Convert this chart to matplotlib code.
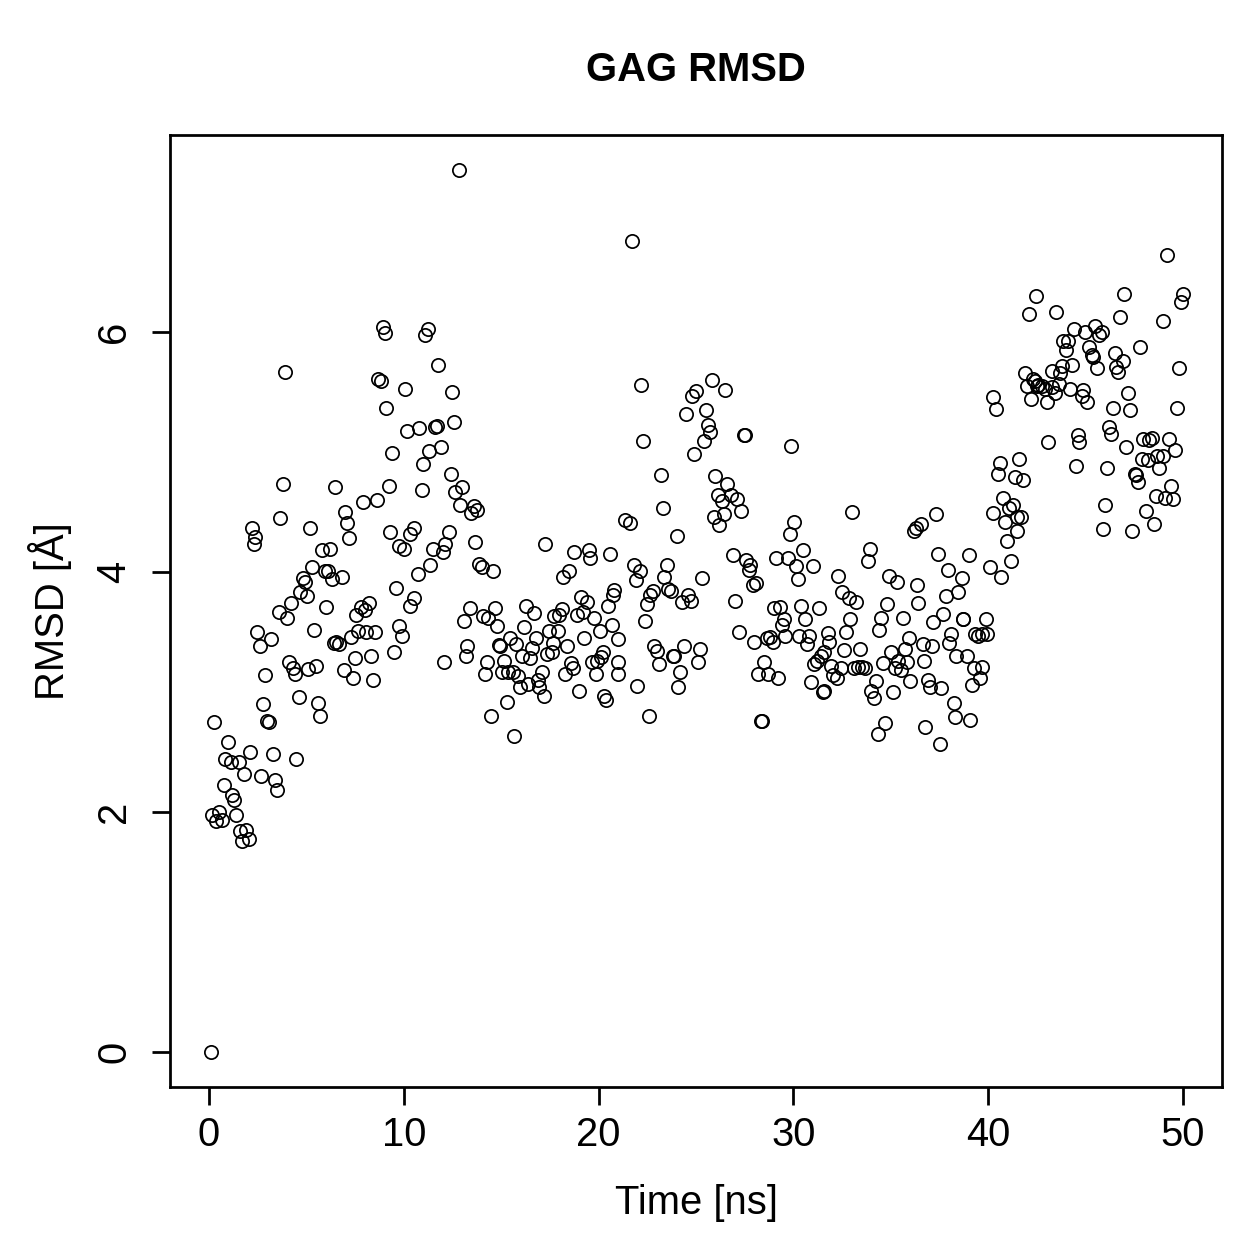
import matplotlib
matplotlib.use("Agg")
import matplotlib.pyplot as plt

plt.rcParams['font.family'] = ['Liberation Sans', 'DejaVu Sans']

# simulation time (ns) and RMSD (Angstrom)
time_ns = [
    0.10, 0.15, 0.26, 0.36, 0.51, 0.67, 0.77, 0.82, 0.97, 1.13, 1.18, 1.28, 1.38, 1.54, 1.59, 1.69,
    1.79, 1.90, 2.05, 2.10, 2.20, 2.31, 2.36, 2.46, 2.61, 2.66, 2.77, 2.87, 2.97, 3.07, 3.18, 3.28,
    3.38, 3.48, 3.59, 3.64, 3.79, 3.89, 4.00, 4.10, 4.20, 4.30, 4.41, 4.46, 4.61, 4.66, 4.82, 4.92,
    5.02, 5.07, 5.17, 5.28, 5.38, 5.48, 5.58, 5.69, 5.79, 5.94, 5.99, 6.10, 6.20, 6.30, 6.40, 6.45,
    6.51, 6.66, 6.81, 6.92, 6.97, 7.07, 7.17, 7.27, 7.38, 7.48, 7.53, 7.63, 7.79, 7.89, 7.99, 8.04,
    8.20, 8.30, 8.40, 8.50, 8.61, 8.66, 8.81, 8.91, 9.02, 9.07, 9.22, 9.27, 9.38, 9.48, 9.58, 9.73,
    9.78, 9.89, 9.99, 10.04, 10.14, 10.30, 10.30, 10.50, 10.50,
    10.71, 10.76, 10.91, 11.01, 11.07, 11.22, 11.27, 11.37, 11.48, 11.58, 11.68, 11.78, 11.89, 11.99,
    12.09, 12.14, 12.30, 12.40, 12.50, 12.60, 12.65, 12.81, 12.91, 13.01, 13.11, 13.17, 13.27, 13.42,
    13.47, 13.58, 13.68, 13.78, 13.88, 13.99, 14.09, 14.19, 14.29, 14.34, 14.50, 14.60, 14.70, 14.81,
    14.91, 14.96, 15.06, 15.16, 15.32, 15.37, 15.47, 15.63, 15.68, 15.78, 15.88, 15.98, 16.09, 16.19,
    16.29, 16.39, 16.50, 16.60, 16.70, 16.80, 16.91, 16.96, 17.11, 17.21, 17.26, 17.37, 17.47, 17.62,
    17.67, 17.73, 17.93, 17.98, 18.14, 18.19, 18.29, 18.39, 18.49, 18.60, 18.70, 18.75, 18.90, 19.01,
    19.11, 19.21, 19.26, 19.42, 19.52, 19.57, 19.67, 19.77, 19.88, 19.93, 20.08, 20.13, 20.24, 20.29,
    20.39, 20.49, 20.59, 20.70, 20.75, 20.80, 21.00, 21.00, 21.00, 21.36,
    21.62, 21.72, 21.82, 21.93, 21.98, 22.13, 22.18, 22.28, 22.39, 22.49, 22.59, 22.64, 22.80, 22.85,
    23.00, 23.10, 23.21, 23.31, 23.36, 23.51, 23.57, 23.72, 23.82, 23.87, 24.03, 24.08, 24.18, 24.28,
    24.39, 24.49, 24.59, 24.74, 24.80, 24.90, 25.00, 25.10, 25.20, 25.31, 25.41, 25.51, 25.61, 25.72,
    25.82, 25.92, 25.97, 26.13, 26.18, 26.33, 26.43, 26.49, 26.59, 26.79, 26.90, 27.00, 27.10, 27.20,
    27.31, 27.46, 27.51, 27.56, 27.72, 27.77, 27.92, 27.97, 28.07, 28.18, 28.33, 28.38, 28.48, 28.64,
    28.69, 28.79, 28.94, 28.99, 29.10, 29.20, 29.30, 29.41, 29.51, 29.56, 29.71, 29.82, 29.87, 30.02,
    30.12, 30.23, 30.28, 30.38, 30.48, 30.58, 30.69, 30.79, 30.89, 30.99, 31.05, 31.20, 31.30, 31.40,
    31.51, 31.56, 31.56, 31.76, 31.81, 31.92, 32.02,
    32.22, 32.27, 32.43, 32.48, 32.58, 32.68, 32.84, 32.89, 32.99, 33.09, 33.20, 33.30, 33.40, 33.50,
    33.66, 33.81, 33.91, 33.97, 34.12, 34.22, 34.32, 34.38, 34.48, 34.58, 34.68, 34.78, 34.89, 34.99,
    35.09, 35.19, 35.30, 35.35, 35.50, 35.60, 35.71, 35.81, 35.91, 35.96, 36.17, 36.27, 36.32, 36.37,
    36.53, 36.63, 36.68, 36.78, 36.89, 36.99, 37.09, 37.19, 37.30, 37.40, 37.50, 37.60, 37.70, 37.81,
    37.91, 38.01, 38.11, 38.22, 38.32, 38.37, 38.47, 38.63, 38.68, 38.73, 38.93, 38.99, 39.09, 39.19,
    39.29, 39.34, 39.50, 39.60, 39.70, 39.70, 39.91, 39.96, 40.11, 40.22, 40.27, 40.42, 40.52, 40.63,
    40.68, 40.78, 40.88, 40.98, 41.09, 41.19, 41.29, 41.39, 41.50, 41.50, 41.60, 41.70, 41.80, 41.91,
    42.01, 42.11, 42.21, 42.32, 42.42, 42.47, 42.52,
    42.57, 42.78, 42.93, 43.03, 43.08, 43.29, 43.29, 43.44, 43.49, 43.65, 43.70, 43.80, 43.85, 44.01,
    44.11, 44.21, 44.31, 44.42, 44.52, 44.62, 44.67, 44.83, 44.88, 44.98, 45.08, 45.18, 45.34, 45.39,
    45.49, 45.59, 45.70, 45.85, 45.90, 46.00, 46.11, 46.21, 46.31, 46.41, 46.52, 46.57, 46.67, 46.77,
    46.93, 46.98, 47.08, 47.18, 47.28, 47.39, 47.54, 47.59, 47.69, 47.80, 47.90, 47.95, 48.10, 48.21,
    48.26, 48.41, 48.51, 48.62, 48.67, 48.77, 48.98, 48.98, 49.08, 49.18, 49.28, 49.39, 49.49, 49.59,
    49.69, 49.80, 49.90, 50.00,
]

rmsd = [
    0.00, 1.97, 2.75, 1.92, 2.00, 1.93, 2.22, 2.44, 2.58, 2.42, 2.14, 2.10, 1.97, 2.42, 1.84, 1.76,
    2.32, 1.85, 1.77, 2.50, 4.37, 4.23, 4.29, 3.50, 3.38, 2.30, 2.90, 3.14, 2.76, 2.75, 3.44, 2.48,
    2.27, 2.18, 3.67, 4.45, 4.73, 5.67, 3.62, 3.25, 3.74, 3.20, 3.15, 2.44, 2.96, 3.83, 3.95, 3.92,
    3.80, 3.19, 4.37, 4.04, 3.52, 3.22, 2.91, 2.80, 4.18, 4.01, 3.71, 4.01, 4.19, 3.94, 3.41, 4.71,
    3.42, 3.40, 3.96, 3.18, 4.50, 4.41, 4.28, 3.46, 3.12, 3.28, 3.64, 3.51, 3.71, 4.58, 3.68, 3.50,
    3.74, 3.30, 3.10, 3.50, 4.60, 5.61, 5.59, 6.04, 5.99, 5.37, 4.72, 4.33, 4.99, 3.33, 3.87, 4.22,
    3.55, 3.47, 4.19, 5.53, 5.18, 3.72, 4.32, 4.37, 3.78,
    3.98, 5.20, 4.68, 4.90, 5.98, 6.03, 5.01, 4.06, 4.19, 5.21, 5.22, 5.73, 5.04, 4.17,
    3.25, 4.23, 4.33, 4.82, 5.50, 5.25, 4.67, 7.35, 4.56, 4.71, 3.59, 3.30, 3.38, 3.70,
    4.49, 4.55, 4.25, 4.52, 4.07, 4.04, 3.63, 3.15, 3.25, 3.62, 2.80, 4.01, 3.70, 3.55,
    3.39, 3.38, 3.17, 3.26, 2.92, 3.17, 3.45, 3.17, 2.63, 3.40, 3.13, 3.04, 3.30, 3.54,
    3.72, 3.07, 3.28, 3.37, 3.66, 3.45, 3.10, 3.04, 3.17, 2.97, 4.23, 3.32, 3.51, 3.33,
    3.41, 3.63, 3.51, 3.64, 3.69, 3.96, 3.15, 3.38, 4.01, 3.24, 3.20, 4.17, 3.64, 3.01,
    3.79, 3.67, 3.45, 3.75, 4.18, 4.12, 3.25, 3.62, 3.15, 3.26, 3.51, 3.29, 3.33, 2.97,
    2.93, 3.72, 4.15, 3.56, 3.81, 3.85, 3.44, 3.25, 3.15, 4.43,
    4.41, 6.76, 4.06, 3.93, 3.05, 4.01, 5.56, 5.09, 3.59, 3.73, 2.80, 3.81, 3.84, 3.38,
    3.34, 3.23, 4.81, 4.53, 3.96, 4.06, 3.86, 3.84, 3.30, 3.30, 4.30, 3.04, 3.17, 3.75,
    3.38, 5.32, 3.81, 3.76, 5.47, 4.98, 5.51, 3.25, 3.36, 3.95, 5.09, 5.35, 5.23, 5.17,
    5.60, 4.46, 4.80, 4.64, 4.39, 4.59, 4.48, 5.52, 4.73, 4.64, 4.14, 3.76, 4.61, 3.50,
    4.51, 5.14, 5.14, 4.10, 4.02, 4.06, 3.89, 3.42, 3.91, 3.15, 2.76, 2.76, 3.25, 3.45,
    3.15, 3.46, 3.42, 3.70, 4.12, 3.12, 3.71, 3.56, 3.61, 3.47, 4.12, 4.32, 5.05, 4.42,
    4.05, 3.94, 3.47, 3.72, 4.18, 3.61, 3.40, 3.47, 3.08, 4.05, 3.23, 3.26, 3.70, 3.30,
    3.00, 3.33, 3.01, 3.49, 3.42, 3.22, 3.14,
    3.12, 3.97, 3.20, 3.83, 3.35, 3.50, 3.78, 3.61, 4.50, 3.20, 3.75, 3.21, 3.36, 3.21,
    3.20, 4.09, 4.19, 3.01, 2.95, 3.09, 2.65, 3.52, 3.62, 3.24, 2.74, 3.73, 3.97, 3.33,
    3.00, 3.20, 3.92, 3.26, 3.18, 3.62, 3.36, 3.25, 3.45, 3.09, 4.34, 4.37, 3.89, 3.74,
    4.40, 3.40, 3.26, 2.71, 3.10, 3.04, 3.38, 3.58, 4.48, 4.15, 2.57, 3.03, 3.65, 3.80,
    4.02, 3.41, 3.48, 2.91, 2.79, 3.30, 3.83, 3.95, 3.61, 3.61, 3.30, 4.14, 2.77, 3.06,
    3.20, 3.48, 3.47, 3.12, 3.48, 3.21, 3.61, 3.48, 4.04, 5.46, 4.49, 5.36, 4.82, 4.91,
    3.96, 4.62, 4.42, 4.26, 4.53, 4.09, 4.56, 4.79, 4.46, 4.34, 4.94, 4.46, 4.77, 5.66,
    5.55, 6.15, 5.44, 5.61, 5.59, 6.30, 5.55,
    5.56, 5.55, 5.53, 5.42, 5.08, 5.68, 5.54, 5.49, 6.17, 5.57, 5.66, 5.72, 5.93, 5.85,
    5.93, 5.53, 5.73, 6.03, 4.88, 5.14, 5.08, 5.47, 5.52, 6.00, 5.42, 5.88, 5.81, 5.79,
    6.05, 5.70, 5.98, 6.00, 4.36, 4.56, 4.87, 5.21, 5.15, 5.37, 5.83, 5.71, 5.67, 6.13,
    5.76, 6.32, 5.04, 5.49, 5.35, 4.34, 4.82, 4.81, 4.75, 5.88, 4.94, 5.11, 4.51, 4.93,
    5.10, 5.12, 4.40, 4.63, 4.97, 4.87, 4.97, 6.09, 4.62, 6.64, 5.11, 4.72, 4.61, 5.02,
    5.37, 5.70, 6.25, 6.32,
]

x_ticks = [0, 10, 20, 30, 40, 50]
y_ticks = [0, 2, 4, 6]

fig = plt.figure(figsize=(1259 / 180, 1259 / 180), dpi=180)
ax = fig.add_axes([170 / 1259, 1 - 1087 / 1259, (1222 - 170) / 1259, (1087 - 135) / 1259])

ax.plot(time_ns, rmsd, linestyle='none', marker='o', markersize=5.3,
        markerfacecolor='none', markeredgecolor='black', markeredgewidth=0.7)

ax.set_xlim(-2, 52)
ax.set_ylim(-0.294, 7.644)
ax.set_xticks(x_ticks)
ax.set_yticks(y_ticks)
ax.set_yticklabels([str(v) for v in y_ticks], rotation=90, va='center')

for side in ax.spines.values():
    side.set_linewidth(1.1)
ax.tick_params(axis='both', direction='out', length=7.2, width=1.1, labelsize=16, colors='black')
ax.tick_params(axis='x', pad=4.4)
ax.tick_params(axis='y', pad=7.5)

fig.text(696 / 1259, 1 - 70 / 1259, 'GAG RMSD', ha='center', va='center', fontsize=16, fontweight='bold')
fig.text(696 / 1259, 1 - 1203 / 1259, 'Time [ns]', ha='center', va='center', fontsize=16)
fig.text(50 / 1259, 1 - 611 / 1259, 'RMSD [Å]', ha='center', va='center', fontsize=16, rotation=90)

fig.savefig('out.png', dpi=180, facecolor='white')
